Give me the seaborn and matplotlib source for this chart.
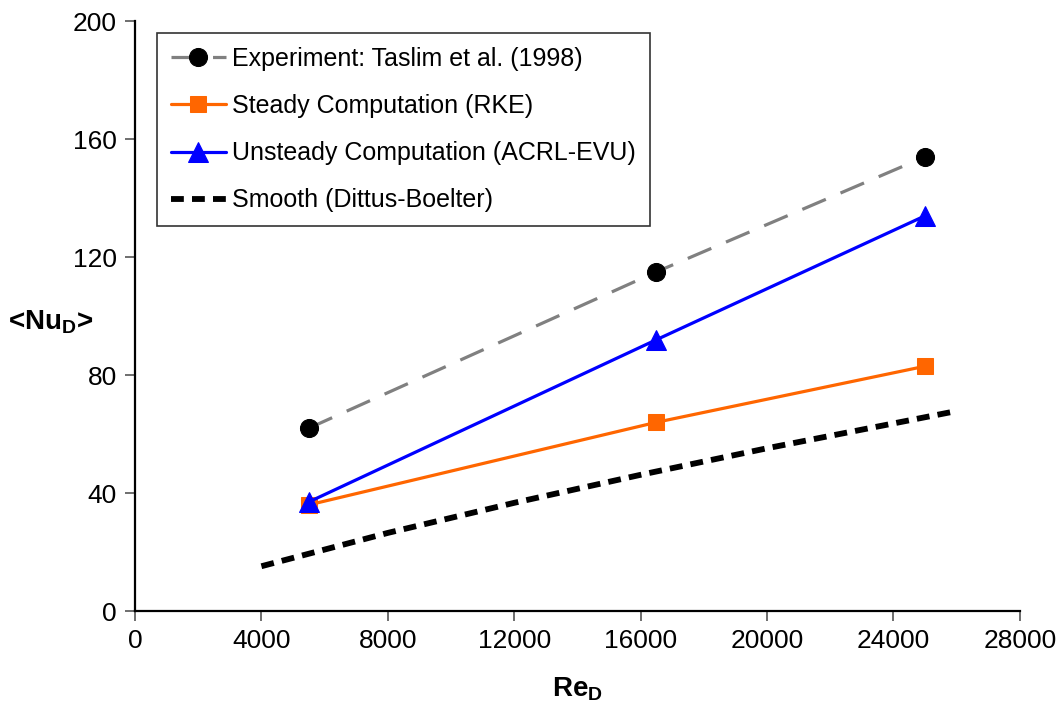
import matplotlib
matplotlib.use("Agg")
import matplotlib.pyplot as plt
import seaborn as sns
import pandas as pd

# Reynolds numbers of the rib-roughened channel cases
re_cases = [5500, 16500, 25000]
nu_experiment = [62, 115, 154]
nu_steady = [36, 64, 83]
nu_unsteady = [37, 92, 134]

# Smooth-duct correlation (Dittus-Boelter)
re_smooth = [4000, 8000, 12000, 16000, 20000, 25800]
nu_smooth = [15.2, 26.5, 36.7, 46.2, 55.2, 67.4]

x_ticks = [0, 4000, 8000, 12000, 16000, 20000, 24000, 28000]
y_ticks = [0, 40, 80, 120, 160, 200]

labels = [
    "Experiment: Taslim et al. (1998)",
    "Steady Computation (RKE)",
    "Unsteady Computation (ACRL-EVU)",
    "Smooth (Dittus-Boelter)",
]

sns.set_theme(style="white")
plt.rcParams["font.family"] = ["Liberation Sans", "DejaVu Sans"]
plt.rcParams["text.color"] = "black"
plt.rcParams["axes.labelcolor"] = "black"
plt.rcParams["mathtext.fontset"] = "custom"
plt.rcParams["mathtext.rm"] = "Liberation Sans"
plt.rcParams["mathtext.bf"] = "Liberation Sans:bold"

fig = plt.figure(figsize=(10.58, 7.04), dpi=100)
ax = fig.add_axes([0.1276, 0.132, 0.8364, 0.838])

df_exp = pd.DataFrame({"Re": re_cases, "Nu": nu_experiment})
df_std = pd.DataFrame({"Re": re_cases, "Nu": nu_steady})
df_uns = pd.DataFrame({"Re": re_cases, "Nu": nu_unsteady})
df_smo = pd.DataFrame({"Re": re_smooth, "Nu": nu_smooth})

sns.lineplot(data=df_exp, x="Re", y="Nu", ax=ax, color="#808080", lw=2.3,
             linestyle=(0, (8, 5)), marker="o", markersize=13,
             markerfacecolor="black", markeredgecolor="black", label=labels[0])
sns.lineplot(data=df_std, x="Re", y="Nu", ax=ax, color="#FF6600", lw=2.3,
             marker="s", markersize=12, markerfacecolor="#FF6600",
             markeredgecolor="#FF6600", label=labels[1])
sns.lineplot(data=df_uns, x="Re", y="Nu", ax=ax, color="#0000FF", lw=2.3,
             marker="^", markersize=14, markerfacecolor="#0000FF",
             markeredgecolor="#0000FF", label=labels[2])
sns.lineplot(data=df_smo, x="Re", y="Nu", ax=ax, color="black", lw=4.2,
             linestyle=(0, (2.2, 1.4)), label=labels[3])

ax.set_xlim(0, 28000)
ax.set_ylim(0, 200)
ax.set_xticks(x_ticks)
ax.set_yticks(y_ticks)
ax.tick_params(axis="both", direction="out", length=7, width=1.2,
               color="#555555", labelsize=19, labelcolor="black", pad=6,
               bottom=True, left=True)
for side in ("top", "right"):
    ax.spines[side].set_visible(False)
for side in ("left", "bottom"):
    ax.spines[side].set_color("black")
    ax.spines[side].set_linewidth(1.6)
ax.grid(False)

ax.set_xlabel(r"Re$_\mathbf{D}$", fontsize=20, fontweight="bold", labelpad=16)
ax.set_ylabel(r"<Nu$_\mathbf{D}$>", fontsize=20, fontweight="bold",
              rotation=0, va="center", ha="center")
ax.yaxis.set_label_coords(-0.095, 0.49)

leg = ax.legend(loc="upper left", bbox_to_anchor=(157 / 1058, 1 - 33 / 704),
                bbox_transform=fig.transFigure, fontsize=18, frameon=True,
                fancybox=False, edgecolor="black", handlelength=2.2,
                labelspacing=0.93, borderpad=0.55, handletextpad=0.25,
                borderaxespad=0)
leg.get_frame().set_linewidth(1.2)
for t in leg.get_texts():
    t.set_color("black")

fig.savefig("out.png", dpi=100)
